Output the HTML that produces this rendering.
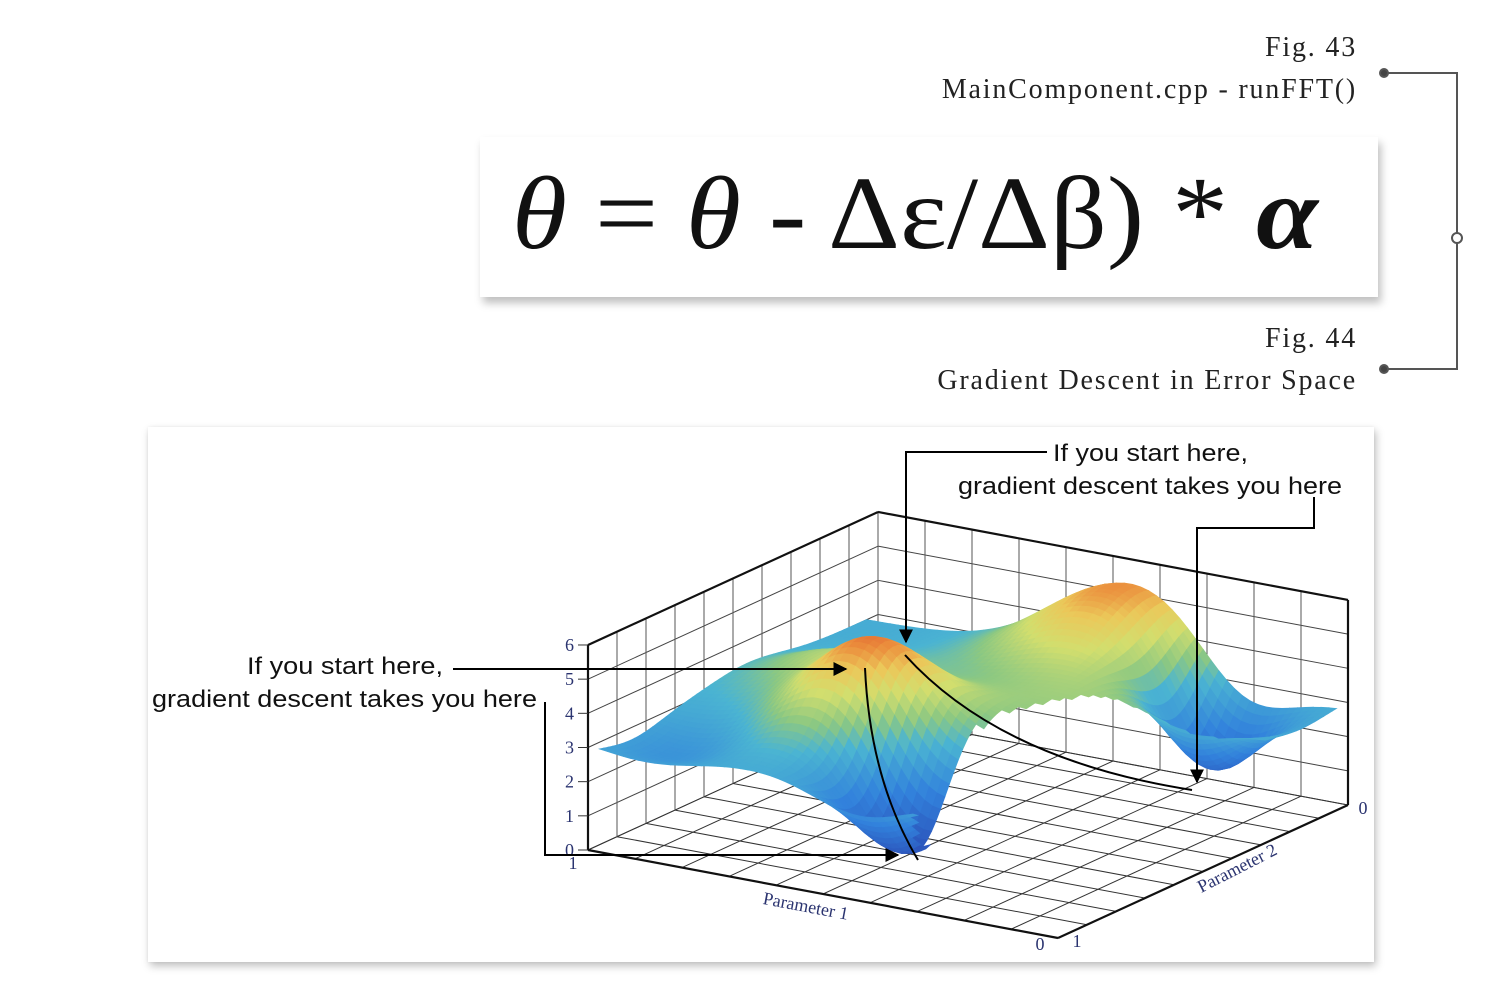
<!DOCTYPE html>
<html><head><meta charset="utf-8">
<style>
html,body{margin:0;padding:0;background:#fff;}
body{width:1500px;height:1000px;position:relative;overflow:hidden;font-family:"Liberation Serif",serif;}
.fig{position:absolute;right:143px;font-size:28px;letter-spacing:1.8px;color:#222;text-align:right;white-space:nowrap;}
#formula-box{position:absolute;left:480px;top:137px;width:898px;height:160px;background:#fff;box-shadow:3px 6px 8px rgba(0,0,0,0.25);}
#chart-panel{position:absolute;left:148px;top:427px;width:1226px;height:535px;background:#fff;box-shadow:2px 4px 8px rgba(0,0,0,0.25),0 0 3px rgba(0,0,0,0.06);}
svg{position:absolute;left:0;top:0;}
</style></head>
<body>
<div class="fig" style="top:32px;">Fig. 43</div>
<div class="fig" style="top:74px;">MainComponent.cpp - runFFT()</div>
<div class="fig" style="top:323px;">Fig. 44</div>
<div class="fig" style="top:365px;">Gradient Descent in Error Space</div>
<div id="formula-box"></div>
<div id="chart-panel"></div>
<svg width="1500" height="1000" id="main">
 <text x="512" y="248" font-size="104" font-family="Liberation Serif, serif" fill="#111" textLength="806" lengthAdjust="spacingAndGlyphs"><tspan font-style="italic">θ</tspan> = <tspan font-style="italic">θ</tspan> - Δε/Δβ) * <tspan font-style="italic" font-weight="bold">α</tspan></text>
 <g fill="none" stroke="#555" stroke-width="2">
  <path d="M1384 73 H1457 V369 H1384"/>
  <circle cx="1384" cy="73" r="4" fill="#444"/>
  <circle cx="1384" cy="369" r="4" fill="#444"/>
  <circle cx="1457" cy="238" r="5" fill="#fff"/>
 </g>
 <g id="grid"></g>
 <g id="surface"></g>
 <g id="labels"></g>
 <defs><marker id="ah" viewBox="0 0 10 10" refX="9" refY="5" markerWidth="7" markerHeight="7" orient="auto"><path d="M0 0 L10 5 L0 10z" fill="#000"/></marker></defs>
 <g fill="none" stroke="#000" stroke-width="2">
  <path d="M1047 452 H906 V642" marker-end="url(#ah)"/>
  <path d="M1314 497 V528 H1197 V782" marker-end="url(#ah)"/>
  <path d="M905 655 Q1000 760 1192 790"/>
  <path d="M453 669 H846" marker-end="url(#ah)"/>
  <path d="M865 668 Q870 780 918 860"/>
  <path d="M545 702 V855 H898" marker-end="url(#ah)"/>
 </g>
 <g font-family="Liberation Sans, sans-serif" font-size="24" fill="#111">
  <text x="1053" y="461" textLength="195" lengthAdjust="spacingAndGlyphs">If you start here,</text>
  <text x="958" y="494" textLength="384" lengthAdjust="spacingAndGlyphs">gradient descent takes you here</text>
  <text x="247" y="674" textLength="196" lengthAdjust="spacingAndGlyphs">If you start here,</text>
  <text x="152" y="707" textLength="385" lengthAdjust="spacingAndGlyphs">gradient descent takes you here</text>
 </g>
</svg>
<script>
// surface features (u = parameter 1 position, v = parameter 2 position, amplitude, spread)
const baseHeight = [3.0];
const featureU = [0.39, 0.57, 0.55, 0.80, 0.18, 0.70, 0.10];
const featureV = [0.35, 0.92, 0.20, 0.84, 0.55, 0.55, 0.15];
const featureAmp = [2.8, 2.6, -2.8, -2.6, 1.0, 0.8, -0.6];
const featureSigma = [0.12, 0.16, 0.10, 0.09, 0.12, 0.15, 0.1];
const zTicks = [0, 1, 2, 3, 4, 5, 6];
const gridDivs = [0,0.1,0.2,0.3,0.4,0.5,0.6,0.7,0.8,0.9,1];

const NS='http://www.w3.org/2000/svg';
function P(u,v,z){return [588+470*u+290*v, 850+88*u-133*v-34.17*z];}
function mk(tag,attrs,parent){const e=document.createElementNS(NS,tag);for(const k in attrs)e.setAttribute(k,attrs[k]);parent.appendChild(e);return e;}
function line(a,b,g,w,c){return mk('line',{x1:a[0],y1:a[1],x2:b[0],y2:b[1],stroke:c||'#333','stroke-width':w||1},g);}
const grid=document.getElementById('grid');
zTicks.forEach(z=>{
  const l=line(P(0,0,z),P(0,1,z),grid,1,'#444');
  
  
  const b=line(P(0,1,z),P(1,1,z),grid,1,'#444');
  
  
});
gridDivs.forEach(t=>{
  const a=line(P(0,t,0),P(0,t,6),grid,1,'#555');
  
  
  const b=line(P(t,1,0),P(t,1,6),grid,1,'#555');
  
  
  const c=line(P(t,0,0),P(t,1,0),grid,1,'#333');
  
  
  const d=line(P(0,t,0),P(1,t,0),grid,1,'#333');
  
  
});
[[P(0,0,0),P(0,0,6)],[P(0,0,6),P(0,1,6)],[P(0,1,6),P(1,1,6)],[P(1,1,6),P(1,1,0)],[P(0,0,0),P(1,0,0)],[P(1,0,0),P(1,1,0)]].forEach(s=>{
  const e=line(s[0],s[1],grid,2.2,'#111');
  
  
});
function h(u,v){let z=baseHeight[0];for(let i=0;i<featureU.length;i++){const du=u-featureU[i],dv=v-featureV[i];z+=featureAmp[i]*Math.exp(-(du*du+dv*dv)/(2*featureSigma[i]*featureSigma[i]));}
  return Math.max(0.1,Math.min(6,z));}
const stops=[[0,[40,60,170]],[2,[50,130,220]],[3.2,[75,180,210]],[3.8,[140,200,130]],[4.5,[210,222,110]],[5.1,[235,200,90]],[5.6,[235,140,60]],[6,[220,80,45]]];
function col(z){for(let i=1;i<stops.length;i++){if(z<=stops[i][0]){const a=stops[i-1],b=stops[i],t=(z-a[0])/(b[0]-a[0]);return 'rgb('+a[1].map((c,k)=>Math.round(c+(b[1][k]-c)*t)).join(',')+')';}}return 'rgb(220,80,45)';}
const surf=document.getElementById('surface');
const N=60,cells=[];
for(let i=0;i<N;i++)for(let j=0;j<N;j++){
  const u0=i/N,u1=(i+1)/N,v0=0.04+0.92*j/N,v1=0.04+0.92*(j+1)/N,uc=(u0+u1)/2,vc=(v0+v1)/2;
  if(((uc-1)*(uc-1)+(vc-0.3)*(vc-0.3))<0.42*0.42)continue;
  cells.push({u0,u1,v0,v1,d:vc-uc,z:h(uc,vc)});
}
cells.sort((a,b)=>b.d-a.d);
cells.forEach(c=>{
  const pts=[P(c.u0,c.v0,h(c.u0,c.v0)),P(c.u1,c.v0,h(c.u1,c.v0)),P(c.u1,c.v1,h(c.u1,c.v1)),P(c.u0,c.v1,h(c.u0,c.v1))];
  const cl=col(c.z);
  const p=mk('polygon',{points:pts.map(q=>q.join(',')).join(' '),fill:cl,stroke:cl,'stroke-width':0.8},surf);
  
  
});
const lab=document.getElementById('labels');
function txt(s,x,y,attrs){const t=mk('text',Object.assign({x:x,y:y,'font-size':18,fill:'#2b3470','font-family':'Liberation Serif, serif'},attrs||{}),lab);t.textContent=s;return t;}
zTicks.forEach(z=>{const p=P(0,0,z);
  const t=txt(String(z),p[0]-14,p[1]+6,{'text-anchor':'end'});
  
  
  const tk=line([p[0]-10,p[1]],p,lab,1,'#333');
  
  });
let t1=txt('1',573,869,{'text-anchor':'middle'});


let t2=txt('0',1040,950,{'text-anchor':'middle'});


let t3=txt('1',1077,947,{'text-anchor':'middle'});


let t4=txt('0',1363,814,{'text-anchor':'middle'});


let t5=txt('Parameter 1',806,912,{'text-anchor':'middle',transform:'rotate(10.6 806 905)'});


let t6=txt('Parameter 2',1237,874,{'text-anchor':'middle',transform:'rotate(-27 1237 868)'});


</script>
</body></html>
